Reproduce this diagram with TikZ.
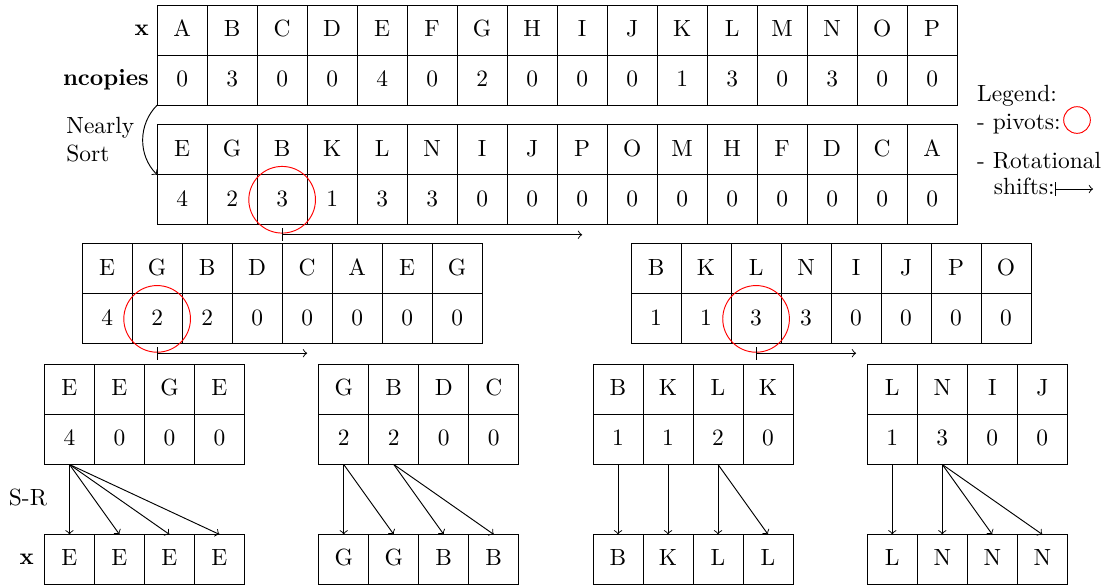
\documentclass[tikz,border=0pt]{standalone}
\usepackage{tikz}
\usetikzlibrary{arrows,positioning,matrix}

\begin{document}
\begin{tikzpicture}[
    cell/.style={rectangle, draw, minimum width=0.75cm, minimum height=0.75cm,
                 text height=1.5ex, text depth=0.25ex, anchor=center, inner sep=0pt},
    celltable/.style={matrix of nodes, nodes={cell}, column sep=-\pgflinewidth,
                 row sep=-\pgflinewidth, inner sep=0pt, outer sep=0pt, ampersand replacement=\&},
    pivot/.style={circle, draw=red, minimum size=1cm, inner sep=0pt},
    rotshift/.style={|->},
    srarrow/.style={->}
]
    \useasboundingbox (0,0) rectangle (16.665,-8.79);

    % Input array with its copy counts
    \matrix[celltable, anchor=north west] (orig) at (2.35,-0.07) {
        A \& B \& C \& D \& E \& F \& G \& H \& I \& J \& K \& L \& M \& N \& O \& P \\
        0 \& 3 \& 0 \& 0 \& 4 \& 0 \& 2 \& 0 \& 0 \& 0 \& 1 \& 3 \& 0 \& 3 \& 0 \& 0 \\
    };
    \node[left=0pt of orig-1-1, font=\bfseries] {x};
    \node[left=0pt of orig-2-1, font=\bfseries] {ncopies};

    % Nearly sorted array
    \matrix[celltable, below=0.28cm of orig] (sorted) {
        E \& G \& B \& K \& L \& N \& I \& J \& P \& O \& M \& H \& F \& D \& C \& A \\
        4 \& 2 \& 3 \& 1 \& 3 \& 3 \& 0 \& 0 \& 0 \& 0 \& 0 \& 0 \& 0 \& 0 \& 0 \& 0 \\
    };
    \draw[->] (orig-2-1.south west) to[bend right=45] (sorted-1-1.south west);
    \node[align=left, anchor=west, inner sep=0pt] (nsort) at (0.99,-2.1) {Nearly\\Sort};
    \node[pivot] (pivS) at (sorted-2-3) {};
    \draw[rotshift] ([yshift=-0.15cm]sorted-2-3.south) -- ([yshift=-0.15cm]sorted-2-9.south);

    % First partition
    \matrix[celltable, below=0.28cm of sorted-2-3] (partL) {
        E \& G \& B \& D \& C \& A \& E \& G \\
        4 \& 2 \& 2 \& 0 \& 0 \& 0 \& 0 \& 0 \\
    };
    \matrix[celltable, right=2.22cm of partL] (partR) {
        B \& K \& L \& N \& I \& J \& P \& O \\
        1 \& 1 \& 3 \& 3 \& 0 \& 0 \& 0 \& 0 \\
    };
    \node[pivot] (pivL) at (partL-2-2) {};
    \node[pivot] (pivR) at (partR-2-3) {};
    \draw[rotshift] ([yshift=-0.14cm]partL-2-2.south) -- ([yshift=-0.14cm]partL-2-5.south);
    \draw[rotshift] ([yshift=-0.14cm]partR-2-3.south) -- ([yshift=-0.14cm]partR-2-5.south);

    % Leaves
    \matrix[celltable, anchor=north west] (leafA) at (0.66,-5.46) {
        E \& E \& G \& E \\
        4 \& 0 \& 0 \& 0 \\
    };
    \matrix[celltable, right=1.1cm of leafA] (leafB) {
        G \& B \& D \& C \\
        2 \& 2 \& 0 \& 0 \\
    };
    \matrix[celltable, right=1.1cm of leafB] (leafC) {
        B \& K \& L \& K \\
        1 \& 1 \& 2 \& 0 \\
    };
    \matrix[celltable, right=1.1cm of leafC] (leafD) {
        L \& N \& I \& J \\
        1 \& 3 \& 0 \& 0 \\
    };

    % Output after S-R
    \matrix[celltable, below=1.035cm of leafA] (outA) {E \& E \& E \& E \\};
    \matrix[celltable, below=1.035cm of leafB] (outB) {G \& G \& B \& B \\};
    \matrix[celltable, below=1.035cm of leafC] (outC) {B \& K \& L \& L \\};
    \matrix[celltable, below=1.035cm of leafD] (outD) {L \& N \& N \& N \\};
    \node[left=1pt of outA-1-1, font=\bfseries] {x};
    \node (srlbl) at (0.42,-7.455) {S-R};

    \foreach \s/\t in {1/1,1/2,1/3,1/4}
        \draw[srarrow] (leafA-2-\s.south) -- (outA-1-\t.north);
    \foreach \s/\t in {1/1,1/2,2/3,2/4}
        \draw[srarrow] (leafB-2-\s.south) -- (outB-1-\t.north);
    \foreach \s/\t in {1/1,2/2,3/3,3/4}
        \draw[srarrow] (leafC-2-\s.south) -- (outC-1-\t.north);
    \foreach \s/\t in {1/1,2/2,2/3,2/4}
        \draw[srarrow] (leafD-2-\s.south) -- (outD-1-\t.north);

    % Legend
    \node[anchor=base west, inner sep=0pt] (leglbl) at (14.65,-1.515) {Legend:};
    \node[anchor=base west, inner sep=0pt] (pivlbl) at (14.65,-1.935) {- pivots:};
    \node[circle, draw=red, minimum size=0.4cm, inner sep=0pt] (legpiv) at (16.155,-1.8) {};
    \node[anchor=base west, inner sep=0pt] (rotlbl) at (14.65,-2.52) {- Rotational};
    \node[anchor=base west, inner sep=0pt] (shiftlbl) at (14.9,-2.91) {shifts:};
    \coordinate (shiftend) at (16.395,-2.835);
    \draw[rotshift] ([yshift=0.075cm]shiftlbl.base east) -- (shiftend);
\end{tikzpicture}
\end{document}
